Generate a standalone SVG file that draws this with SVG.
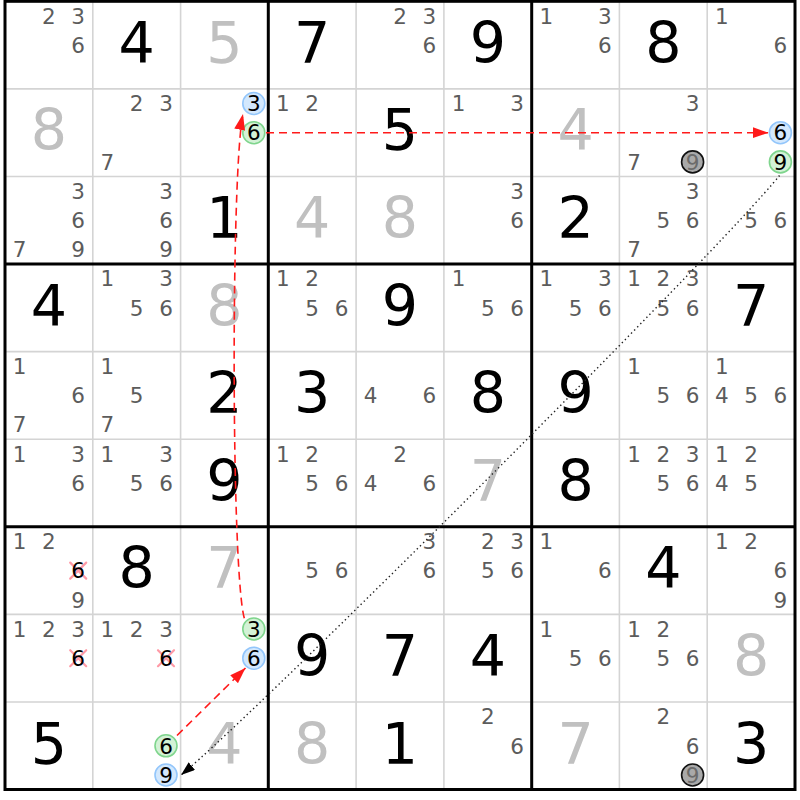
<svg xmlns="http://www.w3.org/2000/svg" width="800" height="800" viewBox="0 0 800 800">
<style>
text{font-family:"DejaVu Sans","Noto Sans",sans-serif;text-anchor:middle}
.c{font-size:21.5px;fill:#5c5c5c}
.k{font-size:21.5px;fill:#000}
.g{font-size:57px;fill:#000}
.s{font-size:57px;fill:#c0c0c0}
.thin{stroke:#d4d4d4;stroke-width:1.6}
.thick{stroke:#000;stroke-width:3}
.blue{fill:#d3e8fd;stroke:#93c6fb;stroke-width:1.6}
.green{fill:#d3f2d6;stroke:#7fd58d;stroke-width:1.6}
.gray{fill:#a9a9a9;stroke:#111;stroke-width:1.6}
.gt{font-size:21.5px;fill:#6b6b6b}
.x{stroke:#ff9aa6;stroke-width:2.2;stroke-linecap:round}
.red{fill:none;stroke:#ff1a1a;stroke-width:1.6;stroke-dasharray:8 5;marker-end:url(#ar)}
.dot{fill:none;stroke:#222;stroke-width:1.4;stroke-dasharray:1.4 3;marker-end:url(#ab)}
</style>
<defs>
<marker id="ar" markerUnits="userSpaceOnUse" markerWidth="17" markerHeight="12" refX="16" refY="5.5" orient="auto"><path d="M0,0 L16,5.5 L0,11 Z" fill="#ff1a1a" stroke="none"/></marker>
<marker id="ab" markerUnits="userSpaceOnUse" markerWidth="15" markerHeight="11" refX="14" refY="5" orient="auto"><path d="M0,0 L14,5 L0,10 Z" fill="#000" stroke="none"/></marker>
</defs>
<rect x="0" y="0" width="800" height="800" fill="#fff"/>
<g id="grid">
<path class="thin" d="M92.8,1.3V789.5M180.6,1.3V789.5M356.1,1.3V789.5M443.9,1.3V789.5M619.4,1.3V789.5M707.2,1.3V789.5M5,88.9H795M5,176.5H795M5,351.6H795M5,439.2H795M5,614.4H795M5,702H795"/>
<path class="thick" d="M268.3,1.3V789.5M531.7,1.3V789.5M5,264H795M5,526.8H795"/>
<rect class="thick" x="5" y="1.3" width="790" height="788.2" fill="none"/>
</g>
<g id="r0">
<g id="r0c0"><text class="c" x="48.9" y="23.6">2</text><text class="c" x="78.2" y="23.6">3</text><text class="c" x="78.2" y="52.8">6</text></g>
<g id="r0c1"><text class="g" x="136.7" y="62.8">4</text></g>
<g id="r0c2"><text class="s" x="224.5" y="62.8">5</text></g>
<g id="r0c3"><text class="g" x="312.2" y="62.8">7</text></g>
<g id="r0c4"><text class="c" x="400" y="23.6">2</text><text class="c" x="429.3" y="23.6">3</text><text class="c" x="429.3" y="52.8">6</text></g>
<g id="r0c5"><text class="g" x="487.8" y="62.8">9</text></g>
<g id="r0c6"><text class="c" x="546.3" y="23.6">1</text><text class="c" x="604.9" y="23.6">3</text><text class="c" x="604.9" y="52.8">6</text></g>
<g id="r0c7"><text class="g" x="663.3" y="62.8">8</text></g>
<g id="r0c8"><text class="c" x="721.8" y="23.6">1</text><text class="c" x="780.4" y="52.8">6</text></g>
</g>
<g id="r1">
<g id="r1c0"><text class="s" x="48.9" y="150.4">8</text></g>
<g id="r1c1"><text class="c" x="136.7" y="111.2">2</text><text class="c" x="166" y="111.2">3</text><text class="c" x="107.4" y="169.6">7</text></g>
<g id="r1c2"><circle class="blue" cx="253.8" cy="103.5" r="11"/><text class="k" x="253.8" y="111.2">3</text><circle class="green" cx="253.8" cy="132.7" r="11"/><text class="k" x="253.8" y="140.4">6</text></g>
<g id="r1c3"><text class="c" x="282.9" y="111.2">1</text><text class="c" x="312.2" y="111.2">2</text></g>
<g id="r1c4"><text class="g" x="400" y="150.4">5</text></g>
<g id="r1c5"><text class="c" x="458.5" y="111.2">1</text><text class="c" x="517.1" y="111.2">3</text></g>
<g id="r1c6"><text class="s" x="575.6" y="150.4">4</text></g>
<g id="r1c7"><text class="c" x="692.6" y="111.2">3</text><text class="c" x="634" y="169.6">7</text><circle class="gray" cx="692.6" cy="161.9" r="11"/><text class="gt" x="692.6" y="169.6">9</text></g>
<g id="r1c8"><circle class="blue" cx="780.4" cy="132.7" r="11"/><text class="k" x="780.4" y="140.4">6</text><circle class="green" cx="780.4" cy="161.9" r="11"/><text class="k" x="780.4" y="169.6">9</text></g>
</g>
<g id="r2">
<g id="r2c0"><text class="c" x="78.2" y="198.8">3</text><text class="c" x="78.2" y="228">6</text><text class="c" x="19.6" y="257.2">7</text><text class="c" x="78.2" y="257.2">9</text></g>
<g id="r2c1"><text class="c" x="166" y="198.8">3</text><text class="c" x="166" y="228">6</text><text class="c" x="166" y="257.2">9</text></g>
<g id="r2c2"><text class="g" x="224.5" y="238">1</text></g>
<g id="r2c3"><text class="s" x="312.2" y="238">4</text></g>
<g id="r2c4"><text class="s" x="400" y="238">8</text></g>
<g id="r2c5"><text class="c" x="517.1" y="198.8">3</text><text class="c" x="517.1" y="228">6</text></g>
<g id="r2c6"><text class="g" x="575.6" y="238">2</text></g>
<g id="r2c7"><text class="c" x="692.6" y="198.8">3</text><text class="c" x="663.3" y="228">5</text><text class="c" x="692.6" y="228">6</text><text class="c" x="634" y="257.2">7</text></g>
<g id="r2c8"><text class="c" x="751.1" y="228">5</text><text class="c" x="780.4" y="228">6</text></g>
</g>
<g id="r3">
<g id="r3c0"><text class="g" x="48.9" y="325.5">4</text></g>
<g id="r3c1"><text class="c" x="107.4" y="286.3">1</text><text class="c" x="166" y="286.3">3</text><text class="c" x="136.7" y="315.5">5</text><text class="c" x="166" y="315.5">6</text></g>
<g id="r3c2"><text class="s" x="224.5" y="325.5">8</text></g>
<g id="r3c3"><text class="c" x="282.9" y="286.3">1</text><text class="c" x="312.2" y="286.3">2</text><text class="c" x="312.2" y="315.5">5</text><text class="c" x="341.5" y="315.5">6</text></g>
<g id="r3c4"><text class="g" x="400" y="325.5">9</text></g>
<g id="r3c5"><text class="c" x="458.5" y="286.3">1</text><text class="c" x="487.8" y="315.5">5</text><text class="c" x="517.1" y="315.5">6</text></g>
<g id="r3c6"><text class="c" x="546.3" y="286.3">1</text><text class="c" x="604.9" y="286.3">3</text><text class="c" x="575.6" y="315.5">5</text><text class="c" x="604.9" y="315.5">6</text></g>
<g id="r3c7"><text class="c" x="634" y="286.3">1</text><text class="c" x="663.3" y="286.3">2</text><text class="c" x="692.6" y="286.3">3</text><text class="c" x="663.3" y="315.5">5</text><text class="c" x="692.6" y="315.5">6</text></g>
<g id="r3c8"><text class="g" x="751.1" y="325.5">7</text></g>
</g>
<g id="r4">
<g id="r4c0"><text class="c" x="19.6" y="373.9">1</text><text class="c" x="78.2" y="403.1">6</text><text class="c" x="19.6" y="432.3">7</text></g>
<g id="r4c1"><text class="c" x="107.4" y="373.9">1</text><text class="c" x="136.7" y="403.1">5</text><text class="c" x="107.4" y="432.3">7</text></g>
<g id="r4c2"><text class="g" x="224.5" y="413.1">2</text></g>
<g id="r4c3"><text class="g" x="312.2" y="413.1">3</text></g>
<g id="r4c4"><text class="c" x="370.7" y="403.1">4</text><text class="c" x="429.3" y="403.1">6</text></g>
<g id="r4c5"><text class="g" x="487.8" y="413.1">8</text></g>
<g id="r4c6"><text class="g" x="575.6" y="413.1">9</text></g>
<g id="r4c7"><text class="c" x="634" y="373.9">1</text><text class="c" x="663.3" y="403.1">5</text><text class="c" x="692.6" y="403.1">6</text></g>
<g id="r4c8"><text class="c" x="721.8" y="373.9">1</text><text class="c" x="721.8" y="403.1">4</text><text class="c" x="751.1" y="403.1">5</text><text class="c" x="780.4" y="403.1">6</text></g>
</g>
<g id="r5">
<g id="r5c0"><text class="c" x="19.6" y="461.5">1</text><text class="c" x="78.2" y="461.5">3</text><text class="c" x="78.2" y="490.7">6</text></g>
<g id="r5c1"><text class="c" x="107.4" y="461.5">1</text><text class="c" x="166" y="461.5">3</text><text class="c" x="136.7" y="490.7">5</text><text class="c" x="166" y="490.7">6</text></g>
<g id="r5c2"><text class="g" x="224.5" y="500.7">9</text></g>
<g id="r5c3"><text class="c" x="282.9" y="461.5">1</text><text class="c" x="312.2" y="461.5">2</text><text class="c" x="312.2" y="490.7">5</text><text class="c" x="341.5" y="490.7">6</text></g>
<g id="r5c4"><text class="c" x="400" y="461.5">2</text><text class="c" x="370.7" y="490.7">4</text><text class="c" x="429.3" y="490.7">6</text></g>
<g id="r5c5"><text class="s" x="487.8" y="500.7">7</text></g>
<g id="r5c6"><text class="g" x="575.6" y="500.7">8</text></g>
<g id="r5c7"><text class="c" x="634" y="461.5">1</text><text class="c" x="663.3" y="461.5">2</text><text class="c" x="692.6" y="461.5">3</text><text class="c" x="663.3" y="490.7">5</text><text class="c" x="692.6" y="490.7">6</text></g>
<g id="r5c8"><text class="c" x="721.8" y="461.5">1</text><text class="c" x="751.1" y="461.5">2</text><text class="c" x="721.8" y="490.7">4</text><text class="c" x="751.1" y="490.7">5</text></g>
</g>
<g id="r6">
<g id="r6c0"><text class="c" x="19.6" y="549.1">1</text><text class="c" x="48.9" y="549.1">2</text><path class="x" d="M70.2,562.6L86.2,578.6M86.2,562.6L70.2,578.6"/><text class="k" x="78.2" y="578.3">6</text><text class="c" x="78.2" y="607.5">9</text></g>
<g id="r6c1"><text class="g" x="136.7" y="588.3">8</text></g>
<g id="r6c2"><text class="s" x="224.5" y="588.3">7</text></g>
<g id="r6c3"><text class="c" x="312.2" y="578.3">5</text><text class="c" x="341.5" y="578.3">6</text></g>
<g id="r6c4"><text class="c" x="429.3" y="549.1">3</text><text class="c" x="429.3" y="578.3">6</text></g>
<g id="r6c5"><text class="c" x="487.8" y="549.1">2</text><text class="c" x="517.1" y="549.1">3</text><text class="c" x="487.8" y="578.3">5</text><text class="c" x="517.1" y="578.3">6</text></g>
<g id="r6c6"><text class="c" x="546.3" y="549.1">1</text><text class="c" x="604.9" y="578.3">6</text></g>
<g id="r6c7"><text class="g" x="663.3" y="588.3">4</text></g>
<g id="r6c8"><text class="c" x="721.8" y="549.1">1</text><text class="c" x="751.1" y="549.1">2</text><text class="c" x="780.4" y="578.3">6</text><text class="c" x="780.4" y="607.5">9</text></g>
</g>
<g id="r7">
<g id="r7c0"><text class="c" x="19.6" y="636.7">1</text><text class="c" x="48.9" y="636.7">2</text><text class="c" x="78.2" y="636.7">3</text><path class="x" d="M70.2,650.2L86.2,666.2M86.2,650.2L70.2,666.2"/><text class="k" x="78.2" y="665.9">6</text></g>
<g id="r7c1"><text class="c" x="107.4" y="636.7">1</text><text class="c" x="136.7" y="636.7">2</text><text class="c" x="166" y="636.7">3</text><path class="x" d="M158,650.2L174,666.2M174,650.2L158,666.2"/><text class="k" x="166" y="665.9">6</text></g>
<g id="r7c2"><circle class="green" cx="253.8" cy="629" r="11"/><text class="k" x="253.8" y="636.7">3</text><circle class="blue" cx="253.8" cy="658.2" r="11"/><text class="k" x="253.8" y="665.9">6</text></g>
<g id="r7c3"><text class="g" x="312.2" y="675.9">9</text></g>
<g id="r7c4"><text class="g" x="400" y="675.9">7</text></g>
<g id="r7c5"><text class="g" x="487.8" y="675.9">4</text></g>
<g id="r7c6"><text class="c" x="546.3" y="636.7">1</text><text class="c" x="575.6" y="665.9">5</text><text class="c" x="604.9" y="665.9">6</text></g>
<g id="r7c7"><text class="c" x="634" y="636.7">1</text><text class="c" x="663.3" y="636.7">2</text><text class="c" x="663.3" y="665.9">5</text><text class="c" x="692.6" y="665.9">6</text></g>
<g id="r7c8"><text class="s" x="751.1" y="675.9">8</text></g>
</g>
<g id="r8">
<g id="r8c0"><text class="g" x="48.9" y="763.5">5</text></g>
<g id="r8c1"><circle class="green" cx="166" cy="745.8" r="11"/><text class="k" x="166" y="753.5">6</text><circle class="blue" cx="166" cy="775" r="11"/><text class="k" x="166" y="782.7">9</text></g>
<g id="r8c2"><text class="s" x="224.5" y="763.5">4</text></g>
<g id="r8c3"><text class="s" x="312.2" y="763.5">8</text></g>
<g id="r8c4"><text class="g" x="400" y="763.5">1</text></g>
<g id="r8c5"><text class="c" x="487.8" y="724.3">2</text><text class="c" x="517.1" y="753.5">6</text></g>
<g id="r8c6"><text class="s" x="575.6" y="763.5">7</text></g>
<g id="r8c7"><text class="c" x="663.3" y="724.3">2</text><text class="c" x="692.6" y="753.5">6</text><circle class="gray" cx="692.6" cy="775" r="11"/><text class="gt" x="692.6" y="782.7">9</text></g>
<g id="r8c8"><text class="g" x="751.1" y="763.5">3</text></g>
</g>
<g id="connectors">
<path class="red" d="M266,132.7H768.5"/>
<path class="red" d="M244.3,618.3C231,570 231,170 243,114"/>
<path class="red" d="M177,735.5L245.5,668"/>
<path class="dot" d="M779.5,175.5C718,252 258,712 181,775"/>
</g>
</svg>
